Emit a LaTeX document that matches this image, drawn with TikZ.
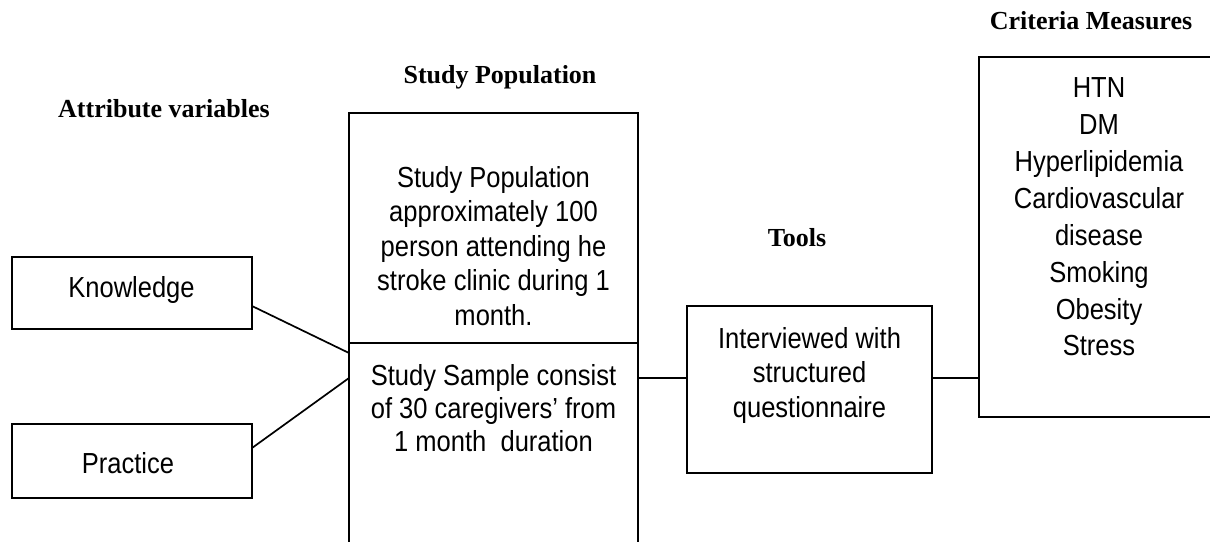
\documentclass[tikz,border=0pt]{standalone}
\usepackage{fontspec}
\setmainfont{Liberation Serif}
\newfontfamily\arialn[FakeStretch=0.88]{Liberation Sans}
\begin{document}
\begin{tikzpicture}[x=1pt,y=-1pt,
  box/.style={draw, line width=1.7pt, inner sep=0pt, outer sep=0pt},
  body/.style={font=\arialn\fontsize{29}{34.5}\selectfont, align=center, inner sep=0pt},
  head/.style={font=\bfseries\fontsize{26}{30}\selectfont, inner sep=0pt, anchor=base},
  link/.style={line width=1.7pt}]
\clip (0,0) rectangle (1210,541);
\fill[white] (0,0) rectangle (1210,541);
% boxes
\node[box, minimum width=240pt, minimum height=72pt] (know) at (132,293) {};
\node[box, minimum width=240pt, minimum height=74pt] (prac) at (132,461) {};
\node[box, minimum width=289pt, minimum height=230pt] (pop) at (493.5,228) {};
\node[box, minimum width=289pt, minimum height=212pt] (samp) at (493.5,449) {};
\node[box, minimum width=245pt, minimum height=167pt] (tool) at (809.5,389.5) {};
\node[box, minimum width=240pt, minimum height=360pt] (crit) at (1099,237) {};
% connectors
\coordinate (tl) at ([yshift=11.5pt]tool.west);
\coordinate (tr) at ([yshift=11.5pt]tool.east);
\draw[link] ([yshift=-13pt]know.east) -- ([yshift=-10pt]samp.north west);
\draw[link] ([yshift=13pt]prac.east) -- ([yshift=-35pt]samp.north west);
\draw[link] (samp.east |- tl) -- (tl);
\draw[link] (tr) -- (crit.west |- tr);
% texts
\node[body] (poptext) at (493.5,246) {Study Population\\approximately 100\\person attending he\\stroke clinic during 1\\month.};
\node[body, font=\arialn\fontsize{29}{33}\selectfont] (samptext) at (493.5,408) {Study Sample consist\\of 30 caregivers’ from\\1 month\ \ duration};
\node[body] (tooltext) at (809.5,375) {Interviewed with\\structured\\questionnaire};
\node[body, font=\arialn\fontsize{29}{36.9}\selectfont] (crittext) at (1099,217) {HTN\\DM\\Hyperlipidemia\\Cardiovascular\\disease\\Smoking\\Obesity\\Stress};
\node[body, anchor=base] (knowtext) at (131.5,297) {Knowledge};
\node[body, anchor=base] (practext) at (128,473) {Practice};
% headings
\node[head] (h1) at (164,117) {Attribute variables};
\node[head] (h2) at (500,83) {Study Population};
\node[head] (h3) at (797,246) {Tools};
\node[head] (h4) at (1091,29) {Criteria Measures};
\end{tikzpicture}
\end{document}
